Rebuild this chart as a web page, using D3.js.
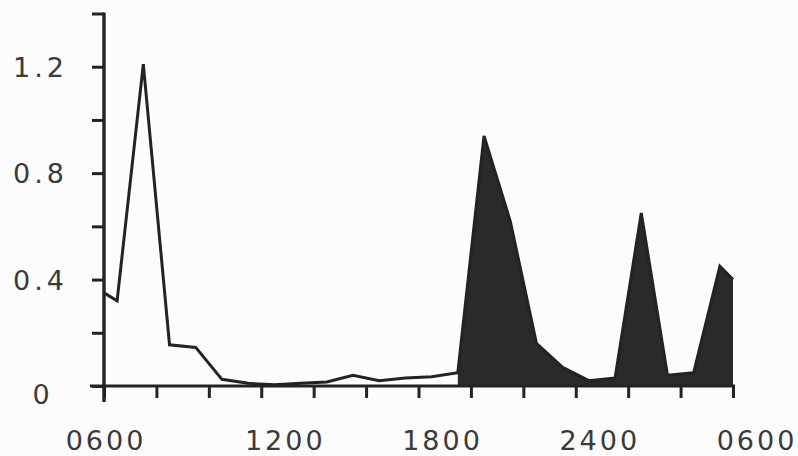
<!DOCTYPE html>
<html>
<head>
<meta charset="utf-8">
<script src="https://cdn.jsdelivr.net/npm/d3@7"></script>
<style>
  html, body { margin: 0; padding: 0; background: #fcfcfc; }
  svg { display: block; }
  text { font-family: "DejaVu Sans", sans-serif; fill: #3a3a3a; }
</style>
</head>
<body>
<svg id="chart" width="798" height="456"></svg>
<script>
// Hours elapsed since 0600
const hours = [0, 0.5, 1.5, 2.5, 3.5, 4.5, 5.5, 6.5, 7.5, 8.5, 9.5, 10.5, 11.5, 12.5,
               13.5, 14.5, 15.5, 16.5, 17.5, 18.5, 19.5, 20.5, 21.5, 22.5, 23.5, 24];
const values = [0.35, 0.32, 1.21, 0.155, 0.145, 0.025, 0.01, 0.005, 0.01, 0.015, 0.04, 0.02, 0.03, 0.035,
                0.05, 0.94, 0.62, 0.16, 0.07, 0.02, 0.03, 0.65, 0.04, 0.05, 0.45, 0.40];
// start of the shaded portion (hours since 0600)
const shadeFrom = 13.5;

const xTickValues = [0, 2, 4, 6, 8, 10, 12, 14, 16, 18, 20, 22, 24];
const xLabelValues = [0, 6, 12, 18, 24];
const xLabels = ["0600", "1200", "1800", "2400", "0600"];
const yTickValues = [0, 0.2, 0.4, 0.6, 0.8, 1.0, 1.2, 1.4];
const yLabelValues = [0, 0.4, 0.8, 1.2];
const yLabels = ["0", "0.4", "0.8", "1.2"];

const svg = d3.select("#chart");
const x = d3.scaleLinear().domain([0, 24]).range([104, 733]);
const y = d3.scaleLinear().domain([0, 1.4]).range([386, 13.5]);

const data = hours.map((h, i) => ({h, v: values[i]}));
const ink = "#232323";

// shaded area
const area = d3.area().x(d => x(d.h)).y0(y(0)).y1(d => y(d.v));
svg.append("path")
  .datum(data.filter(d => d.h >= shadeFrom))
  .attr("d", area)
  .attr("fill", "#2a2a2a");

// line
const line = d3.line().x(d => x(d.h)).y(d => y(d.v));
svg.append("path")
  .datum(data)
  .attr("d", line)
  .attr("fill", "none")
  .attr("stroke", ink)
  .attr("stroke-width", 3)
  .attr("stroke-linejoin", "miter");

// y axis
const yAxis = d3.axisLeft(y).tickValues(yTickValues).tickSize(12).tickSizeOuter(0).tickFormat("");
const gy = svg.append("g").attr("transform", `translate(${x(0)},0)`).call(yAxis);
gy.select(".domain").remove();
gy.selectAll(".tick line").attr("stroke", ink).attr("stroke-width", 3);
svg.append("line")
  .attr("x1", x(0)).attr("x2", x(0))
  .attr("y1", y(1.4) - 1).attr("y2", y(0) + 16)
  .attr("stroke", ink).attr("stroke-width", 3.4);

// y labels
svg.selectAll(".ylab").data(yLabelValues).join("text")
  .attr("class", "ylab")
  .attr("x", d => d === 0 ? 43 : 68)
  .attr("y", d => y(d) + (d === 0 ? 18 : 10))
  .attr("text-anchor", d => d === 0 ? "middle" : "end")
  .attr("font-size", 27)
  .attr("letter-spacing", 4)
  .text((d, i) => yLabels[i]);

// x axis
const xAxis = d3.axisBottom(x).tickValues(xTickValues).tickSize(12).tickSizeOuter(0).tickFormat("");
const gx = svg.append("g").attr("transform", `translate(0,${y(0)})`).call(xAxis);
gx.select(".domain").remove();
gx.selectAll(".tick line").attr("stroke", ink).attr("stroke-width", 3);
svg.append("line")
  .attr("x1", x(0) - 14).attr("x2", x(24) + 2)
  .attr("y1", y(0)).attr("y2", y(0))
  .attr("stroke", ink).attr("stroke-width", 3.2);

// x labels
svg.selectAll(".xlab").data(xLabelValues).join("text")
  .attr("class", "xlab")
  .attr("x", (d, i) => x(d) + (i === 0 ? 2 : 24))
  .attr("y", 450)
  .attr("text-anchor", "middle")
  .attr("font-size", 27)
  .attr("letter-spacing", 3)
  .text((d, i) => xLabels[i]);
</script>
</body>
</html>
